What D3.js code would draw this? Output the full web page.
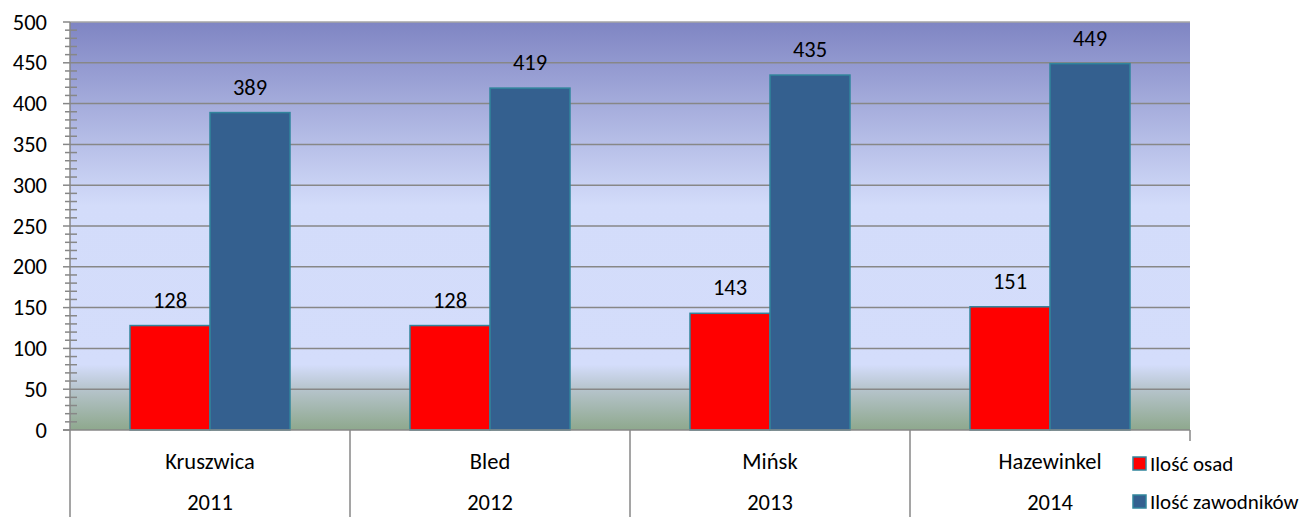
<!DOCTYPE html>
<html>
<head>
<meta charset="utf-8">
<script src="https://cdn.jsdelivr.net/npm/d3@7"></script>
<style>
  body { margin: 0; background: #fff; }
  svg { display: block; font-family: Carlito, Lato, "Open Sans", sans-serif; }
</style>
</head>
<body>
<script>
const places = ['Kruszwica', 'Bled', 'Mińsk', 'Hazewinkel'];
const years = ['2011', '2012', '2013', '2014'];
const osady = [128, 128, 143, 151];
const zawodnicy = [389, 419, 435, 449];
const seriesNames = ['Ilość osad', 'Ilość zawodników'];
const seriesColors = ['#ff0000', '#34608f'];
const yTicks = [0, 50, 100, 150, 200, 250, 300, 350, 400, 450, 500];

const width = 1305, height = 517;
const plotLeft = 70, plotRight = 1190, plotTop = 22, zero = 430;
const fontSize = 22.5;

const svg = d3.select('body').append('svg')
    .attr('width', width)
    .attr('height', height);

const y = d3.scaleLinear().domain([0, 500]).range([zero, plotTop]);
const x = d3.scaleBand().domain(places).range([plotLeft, plotRight]);
const inner = d3.scaleBand().domain(seriesNames).range([60, 220]);

// tło wykresu
const grad = svg.append('defs').append('linearGradient')
    .attr('id', 'bg').attr('x1', 0).attr('y1', 0).attr('x2', 0).attr('y2', 1);
[[0, '#7f85c3'], [0.45, '#d3dcfa'], [0.84, '#d4ddfb'], [0.9, '#b6c4cc'], [1, '#8ea88d']]
    .forEach(([o, c]) => grad.append('stop').attr('offset', o).attr('stop-color', c));

svg.append('rect')
    .attr('x', plotLeft).attr('y', plotTop)
    .attr('width', plotRight - plotLeft).attr('height', zero - plotTop)
    .attr('fill', 'url(#bg)');

// linie siatki
svg.append('g').selectAll('line').data(yTicks.slice(1)).enter()
    .append('line')
    .attr('x1', plotLeft).attr('x2', plotRight)
    .attr('y1', d => y(d)).attr('y2', d => y(d))
    .attr('stroke', d => d === 500 ? '#a6a6a6' : '#878787')
    .attr('stroke-width', 1.5);

// słupki
const rows = places.map((p, i) => [osady[i], zawodnicy[i]]);
const groups = svg.append('g').selectAll('g').data(rows).enter()
    .append('g')
    .attr('transform', (d, i) => `translate(${x(places[i])},0)`);

groups.selectAll('rect').data(d => d).enter()
    .append('rect')
    .attr('x', (d, j) => inner(seriesNames[j]))
    .attr('width', inner.bandwidth())
    .attr('y', d => y(d))
    .attr('height', d => zero - y(d))
    .attr('fill', (d, j) => seriesColors[j])
    .attr('stroke', '#31859c')
    .attr('stroke-width', 1.5);

groups.selectAll('text').data(d => d).enter()
    .append('text')
    .attr('x', (d, j) => inner(seriesNames[j]) + inner.bandwidth() / 2)
    .attr('y', d => y(d) - 18)
    .attr('text-anchor', 'middle')
    .attr('font-size', fontSize)
    .text(d => d);

// oś Y
const yAxis = svg.append('g');
yAxis.append('line')
    .attr('x1', plotLeft).attr('x2', plotLeft)
    .attr('y1', plotTop).attr('y2', height)
    .attr('stroke', '#878787').attr('stroke-width', 1.5);

const minor = d3.range(0, 501, 10).filter(v => v % 50 !== 0);
yAxis.selectAll('line.minor').data(minor).enter()
    .append('line')
    .attr('class', 'minor')
    .attr('x1', 65).attr('x2', 77)
    .attr('y1', d => y(d)).attr('y2', d => y(d))
    .attr('stroke', '#878787').attr('stroke-width', 1.5);

yAxis.selectAll('line.major').data(yTicks).enter()
    .append('line')
    .attr('class', 'major')
    .attr('x1', 63).attr('x2', plotLeft)
    .attr('y1', d => y(d)).attr('y2', d => y(d))
    .attr('stroke', '#878787').attr('stroke-width', 1.5);

yAxis.selectAll('text').data(yTicks).enter()
    .append('text')
    .attr('x', 47)
    .attr('y', d => y(d) + 7.5)
    .attr('text-anchor', 'end')
    .attr('font-size', fontSize)
    .text(d => d);

// oś X (dwa poziomy kategorii)
svg.append('line')
    .attr('x1', 63).attr('x2', plotRight)
    .attr('y1', zero).attr('y2', zero)
    .attr('stroke', '#878787').attr('stroke-width', 1.5);

svg.append('g').selectAll('line').data(places.slice(1)).enter()
    .append('line')
    .attr('x1', d => x(d)).attr('x2', d => x(d))
    .attr('y1', zero).attr('y2', height)
    .attr('stroke', '#878787').attr('stroke-width', 1.5);

svg.append('line')
    .attr('x1', plotRight).attr('x2', plotRight)
    .attr('y1', zero).attr('y2', zero + 11)
    .attr('stroke', '#878787').attr('stroke-width', 1.5);

svg.append('g').selectAll('text').data(places).enter()
    .append('text')
    .attr('x', d => x(d) + x.bandwidth() / 2)
    .attr('y', 469)
    .attr('text-anchor', 'middle')
    .attr('font-size', fontSize)
    .text(d => d);

svg.append('g').selectAll('text').data(years).enter()
    .append('text')
    .attr('x', (d, i) => x(places[i]) + x.bandwidth() / 2)
    .attr('y', 510)
    .attr('text-anchor', 'middle')
    .attr('font-size', fontSize)
    .text(d => d);

// legenda
const legend = svg.append('g').selectAll('g').data(seriesNames).enter()
    .append('g')
    .attr('transform', (d, i) => `translate(1133,${457 + i * 38})`);

legend.append('rect')
    .attr('width', 13).attr('height', 13)
    .attr('fill', (d, i) => seriesColors[i])
    .attr('stroke', '#31859c').attr('stroke-width', 1.5);

legend.append('text')
    .attr('x', 17).attr('y', 13.5)
    .attr('font-size', 21)
    .text(d => d);
</script>
</body>
</html>
